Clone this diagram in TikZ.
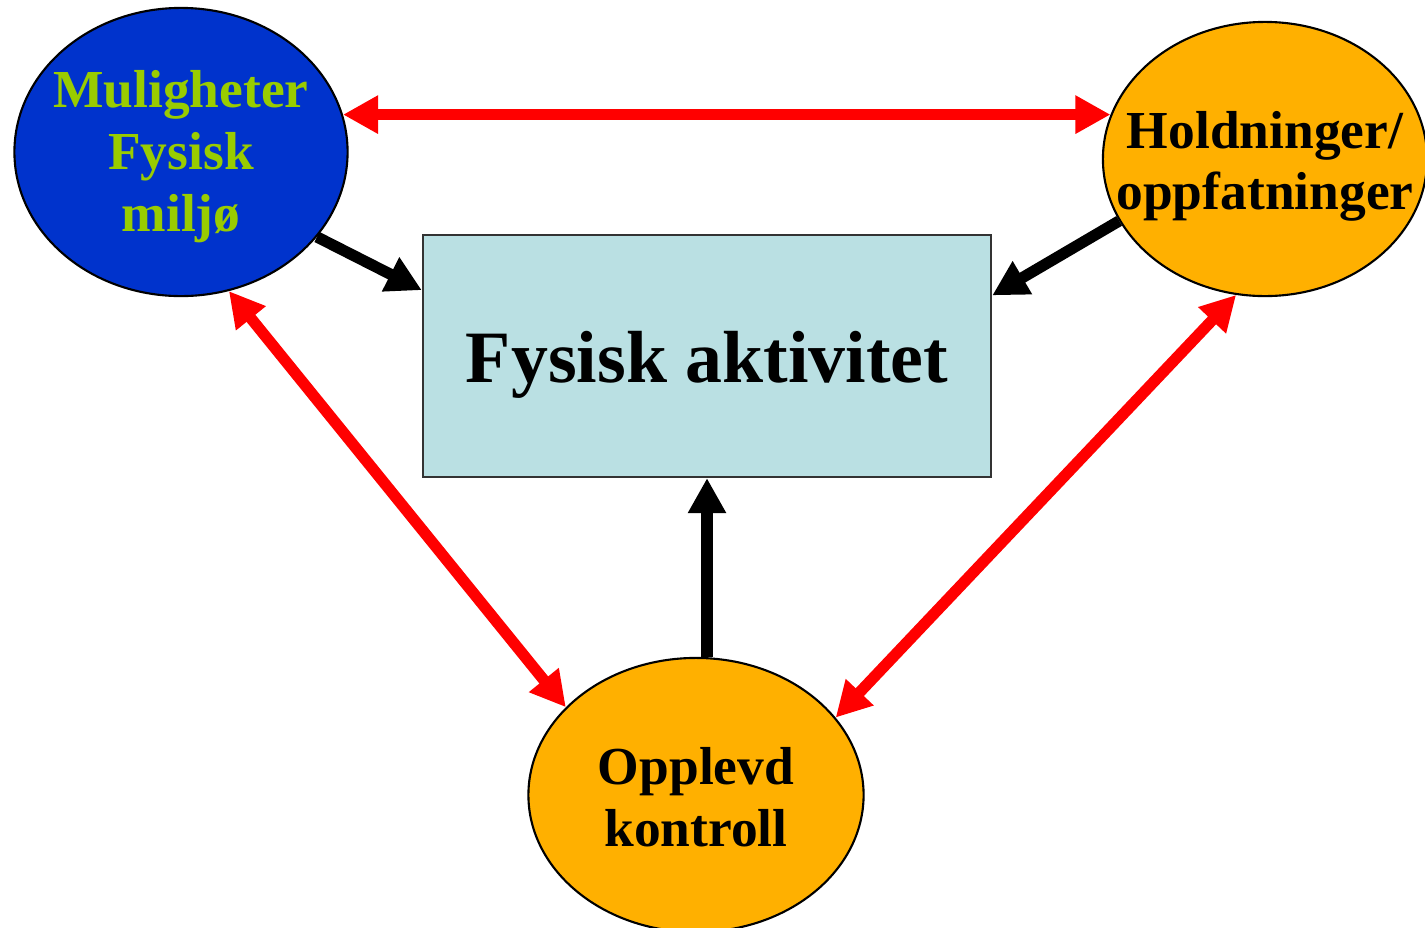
\documentclass[tikz,border=0pt]{standalone}
\usepackage{fontspec}
\setmainfont{Liberation Serif}
\usetikzlibrary{arrows.meta, shapes.geometric, positioning}
\definecolor{blueoval}{RGB}{0,51,204}
\definecolor{greentext}{RGB}{153,204,0}
\definecolor{orangeoval}{RGB}{255,176,0}
\definecolor{boxblue}{RGB}{186,224,227}

\begin{document}
\begin{tikzpicture}[x=0.01cm, y=-0.01cm,
			oval/.style={ellipse, draw=black, line width=0.6pt, inner xsep=-14pt, inner ysep=0pt, align=center,
				text height=32pt, text depth=3pt, font=\fontsize{15.2}{17.6}\selectfont\bfseries},
			effect/.style={black, line width=3.2pt, -{Triangle[length=0.35cm,width=0.36cm]}},
			mutual/.style={red, line width=3.2pt,
				{Triangle[length=0.35cm,width=0.36cm]}-{Triangle[length=0.35cm,width=0.36cm]}}]
			\useasboundingbox (0,0) rectangle (1425,927);
			\node[oval, fill=blueoval, text=greentext, text height=48pt, minimum width=3.33cm, minimum height=2.88cm] (mul) at (181,152) {Muligheter\\Fysisk\\miljø};
			\node[oval, fill=orangeoval, minimum width=3.24cm, minimum height=2.74cm] (hold) at (1265,159) {Holdninger/\\oppfatninger};
			\node[oval, fill=orangeoval, minimum width=3.35cm, minimum height=2.74cm] (opp) at (696,795) {Opplevd\\kontroll};
			\node[draw=black!80, fill=boxblue, line width=0.6pt, minimum width=5.68cm, minimum height=2.42cm,
				text height=20pt, text depth=5.2pt, font=\fontsize{21}{25}\selectfont\bfseries] (akt) at (707,356) {Fysisk aktivitet};
			\draw[effect] (mul.-32) -- (akt.167.5);
			\draw[effect] (hold.203.5) -- (akt.12.5);
			\draw[effect] (akt.south |- opp.north) -- (akt.south);
			\draw[mutual] (mul.13) -- (mul.13 -| hold.164);
			\draw[mutual] (mul.-71) -- (opp.146);
			\draw[mutual] (hold.258.5) -- (opp.29.6);
		\end{tikzpicture}
\end{document}
